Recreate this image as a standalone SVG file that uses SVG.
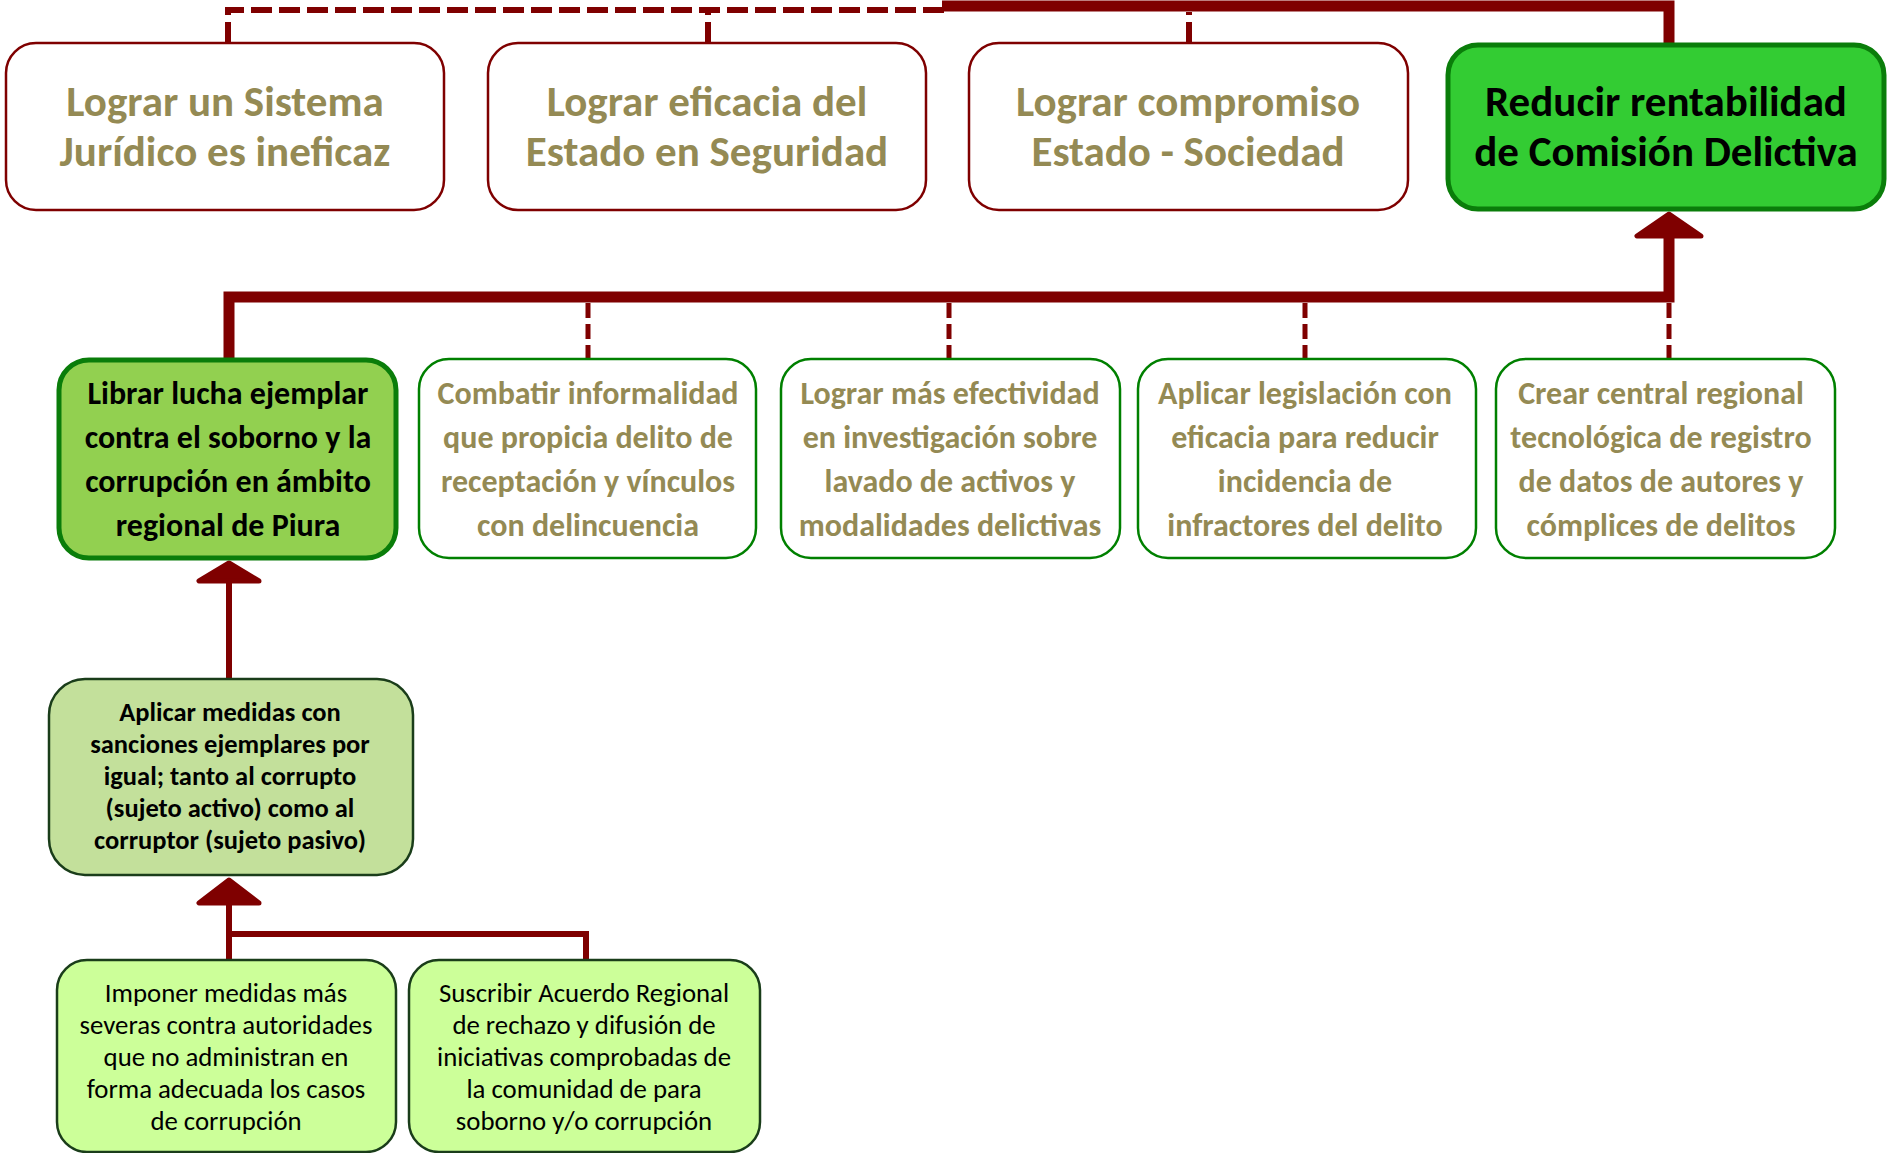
<svg xmlns="http://www.w3.org/2000/svg" width="1888" height="1153" viewBox="0 0 1888 1153">
<style>
text{font-family:Carlito,"Liberation Sans Narrow","Liberation Sans",sans-serif;text-anchor:middle}
.top{font-size:43px;font-weight:bold;fill:#948a54}
.topk{font-size:43px;font-weight:bold;fill:#000}
.mid{font-size:32px;font-weight:bold;fill:#948a54}
.midk{font-size:32px;font-weight:bold;fill:#000}
.apl{font-size:26.5px;font-weight:bold;fill:#000}
.bot{font-size:26.8px;fill:#000}
.rbox{fill:#fff;stroke:#7f0000;stroke-width:2.5}
.gbox{fill:#fff;stroke:#008000;stroke-width:2.5}
.solid{fill:none;stroke:#7f0000;stroke-width:11}
.thin{fill:none;stroke:#7f0000;stroke-width:6}
.dash1{fill:none;stroke:#7f0000;stroke-width:6;stroke-dasharray:21 7}
.dash2{fill:none;stroke:#7f0000;stroke-width:5;stroke-dasharray:15 6}
.arr{fill:#7f0000;stroke:#7f0000;stroke-width:5;stroke-linejoin:round}
</style>
<g id="connectors">
<path class="dash1" d="M228,43 V10 H945"/>
<path class="dash1" d="M708,43 V10"/>
<path class="dash1" d="M1189,43 V12"/>
<path class="solid" d="M942,6 H1669 V43"/>
<path class="solid" d="M229,358 V297 H1669 V234"/>
<polygon class="arr" points="1669,214 1637,236 1701,236"/>
<path class="dash2" d="M588,303 V358"/>
<path class="dash2" d="M949,303 V358"/>
<path class="dash2" d="M1305,303 V358"/>
<path class="dash2" d="M1669,303 V358"/>
<path class="thin" d="M229,580 V679"/>
<polygon class="arr" points="229,563 199,581 259,581"/>
<path class="thin" d="M229,903 V960 M229,934 H586 V960"/>
<polygon class="arr" points="229,880 199,903 259,903"/>
</g>
<g id="n1"><rect class="rbox" x="6" y="43" width="438" height="167" rx="30"/>
<text class="top" x="225" y="116">Lograr un Sistema</text><text class="top" x="225" y="166">Jurídico es ineficaz</text></g>
<g id="n2"><rect class="rbox" x="488" y="43" width="438" height="167" rx="30"/>
<text class="top" x="707" y="116">Lograr eficacia del</text><text class="top" x="707" y="166">Estado en Seguridad</text></g>
<g id="n3"><rect class="rbox" x="969" y="43" width="439" height="167" rx="30"/>
<text class="top" x="1188" y="116">Lograr compromiso</text><text class="top" x="1188" y="166">Estado - Sociedad</text></g>
<g id="n4"><rect x="1448" y="45" width="436" height="164" rx="30" fill="#33cc33" stroke="#0a7d0a" stroke-width="5"/>
<text class="topk" x="1666" y="116">Reducir rentabilidad</text><text class="topk" x="1666" y="166">de Comisión Delictiva</text></g>
<g id="m1"><rect x="59" y="360" width="337" height="198" rx="30" fill="#92d050" stroke="#0a7d0a" stroke-width="5"/>
<text class="midk" x="228" y="404">Librar lucha ejemplar</text><text class="midk" x="228" y="448">contra el soborno y la</text><text class="midk" x="228" y="492">corrupción en ámbito</text><text class="midk" x="228" y="536">regional de Piura</text></g>
<g id="m2"><rect class="gbox" x="419" y="359" width="337" height="199" rx="30"/>
<text class="mid" x="588" y="404">Combatir informalidad</text><text class="mid" x="588" y="448">que propicia delito de</text><text class="mid" x="588" y="492">receptación y vínculos</text><text class="mid" x="588" y="536">con delincuencia</text></g>
<g id="m3"><rect class="gbox" x="781" y="359" width="339" height="199" rx="30"/>
<text class="mid" x="950" y="404">Lograr más efectividad</text><text class="mid" x="950" y="448">en investigación sobre</text><text class="mid" x="950" y="492">lavado de activos y</text><text class="mid" x="950" y="536">modalidades delictivas</text></g>
<g id="m4"><rect class="gbox" x="1138" y="359" width="338" height="199" rx="30"/>
<text class="mid" x="1305" y="404">Aplicar legislación con</text><text class="mid" x="1305" y="448">eficacia para reducir</text><text class="mid" x="1305" y="492">incidencia de</text><text class="mid" x="1305" y="536">infractores del delito</text></g>
<g id="m5"><rect class="gbox" x="1496" y="359" width="339" height="199" rx="30"/>
<text class="mid" x="1661" y="404">Crear central regional</text><text class="mid" x="1661" y="448">tecnológica de registro</text><text class="mid" x="1661" y="492">de datos de autores y</text><text class="mid" x="1661" y="536">cómplices de delitos</text></g>
<g id="a1"><rect x="49" y="679" width="364" height="196" rx="36" fill="#c3e09b" stroke="#1a3d1a" stroke-width="2.5"/>
<text class="apl" x="230" y="721">Aplicar medidas con</text><text class="apl" x="230" y="753">sanciones ejemplares por</text><text class="apl" x="230" y="785">igual; tanto al corrupto</text><text class="apl" x="230" y="817">(sujeto activo) como al</text><text class="apl" x="230" y="849">corruptor (sujeto pasivo)</text></g>
<g id="b1"><rect x="57" y="960" width="339" height="192" rx="30" fill="#ccff99" stroke="#1a3d1a" stroke-width="2.5"/>
<text class="bot" x="226" y="1002">Imponer medidas más</text><text class="bot" x="226" y="1034">severas contra autoridades</text><text class="bot" x="226" y="1066">que no administran en</text><text class="bot" x="226" y="1098">forma adecuada los casos</text><text class="bot" x="226" y="1130">de corrupción</text></g>
<g id="b2"><rect x="409" y="960" width="351" height="192" rx="30" fill="#ccff99" stroke="#1a3d1a" stroke-width="2.5"/>
<text class="bot" x="584" y="1002">Suscribir Acuerdo Regional</text><text class="bot" x="584" y="1034">de rechazo y difusión de</text><text class="bot" x="584" y="1066">iniciativas comprobadas de</text><text class="bot" x="584" y="1098">la comunidad de para</text><text class="bot" x="584" y="1130">soborno y/o corrupción</text></g>
</svg>
